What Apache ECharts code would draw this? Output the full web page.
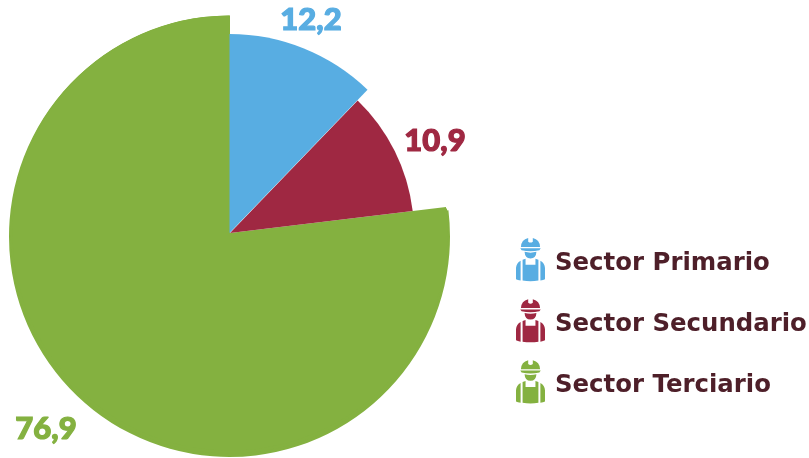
<!DOCTYPE html>
<html>
<head>
<meta charset="utf-8">
<style>
  html, body { margin: 0; padding: 0; background: #fff; }
  #main { width: 809px; height: 458px; }
</style>
<script src="https://cdn.jsdelivr.net/npm/echarts@6/dist/echarts.min.js"></script>
</head>
<body>
<div id="main"></div>
<script>
const sectors = ['Sector Primario', 'Sector Secundario', 'Sector Terciario']
const shares = [12.2, 10.9, 76.9]
const colors = ['#58ade2', '#9f2842', '#84b140']

// the three slices have different radii, so each one gets its own pie
const layers = [
  { slice: 2, center: [229.5, 236.5], radius: 220.5 },
  { slice: 2, center: [229.5, 234.5], radius: 219 },
  { slice: 2, center: [230, 233], radius: 217.5, label: true },
  { slice: 1, center: [230, 233], radius: 184, label: true },
  { slice: 0, center: [229.5, 233], radius: 199, label: true }
]
const labelSpots = [[311, 20], [435, 141], [46, 429]]

// worker icon, 88 x 132
const workerIcon = 'path://' +
  'M15 28A29 29 0 0 1 37 1L37 12Q44 18 51 12L51 1A29 29 0 0 1 73 28Z' +
  'M13 32L75 32L71 38Q44 44 17 38Z' +
  'M26 43Q44 48 62 43Q61 63 44 63Q27 63 26 43Z' +
  'M14 70L14 130Q5 129 0 126L0 92Q1 77 14 70Z' +
  'M74 70Q87 77 88 92L88 126Q83 129 74 130Z' +
  'M20 67L29 64L29 82L59 82L59 64L68 67L68 130Q44 134 20 130Z'

const chart = echarts.init(document.getElementById('main'))

chart.setOption({
  animation: false,
  backgroundColor: '#fff',
  legend: {
    orient: 'vertical',
    left: 511,
    top: 233,
    itemWidth: 29,
    itemHeight: 44,
    itemGap: 18,
    selectedMode: false,
    icon: workerIcon,
    formatter: name => '{t|' + name + '}',
    textStyle: {
      rich: {
        t: {
          color: '#4e1f29',
          fontFamily: 'DejaVu Sans',
          fontWeight: 'bold',
          fontSize: 24.4,
          padding: [8, 0, 0, 5]
        }
      }
    },
    data: sectors.map((name, i) => ({ name, itemStyle: { color: colors[i] } }))
  },
  series: layers.map(layer => ({
    type: 'pie',
    silent: true,
    startAngle: 90,
    clockwise: true,
    center: layer.center,
    radius: [0, layer.radius],
    label: { show: false },
    labelLine: { show: false },
    labelLayout: params => ({
      x: labelSpots[params.dataIndex][0],
      y: labelSpots[params.dataIndex][1],
      align: 'center',
      verticalAlign: 'middle'
    }),
    data: sectors.map((name, i) => ({
      name,
      value: shares[i],
      itemStyle: { color: i === layer.slice ? colors[i] : 'transparent' },
      label: {
        show: i === layer.slice && !!layer.label,
        position: 'outside',
        overflow: 'none',
        formatter: String(shares[i]).replace('.', ','),
        color: colors[i],
        textBorderColor: colors[i],
        textBorderWidth: 1.2,
        fontFamily: 'Lato',
        fontWeight: 900,
        fontSize: 31
      }
    }))
  }))
})
</script>
</body>
</html>
